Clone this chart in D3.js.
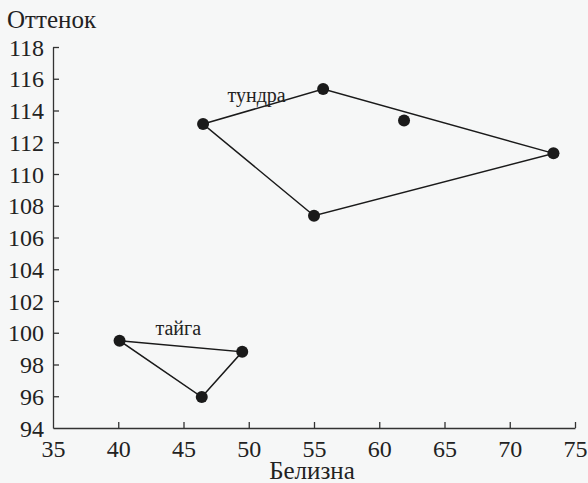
<!DOCTYPE html>
<html>
<head>
  <style>
    body { margin: 0; background: #f6f7f7; }
  </style>
</head>
<body style="margin:0;background:#f6f7f7">
  <svg id="chart" width="588" height="483"></svg>
  <script src="https://d3js.org/d3.v7.min.js"></script>
  <script>
    // data: Белизна (x) and Оттенок (y)
    const tundraWhite = [46.5, 55.7, 73.35, 55.0];   // hull order
    const tundraHue   = [113.15, 115.35, 111.3, 107.37];
    const tundraInnerWhite = [61.9];
    const tundraInnerHue   = [113.37];
    const taigaWhite = [40.1, 49.5, 46.4];
    const taigaHue   = [99.5, 98.8, 95.95];
    const xTicks = [35, 40, 45, 50, 55, 60, 65, 70, 75];
    const yTicks = [94, 96, 98, 100, 102, 104, 106, 108, 110, 112, 114, 116, 118];

    const width = 588, height = 483;
    const margin = { top: 47, right: 13, bottom: 55, left: 53 };
    const w = width - margin.left - margin.right;
    const h = height - margin.top - margin.bottom;
    const serif = "Liberation Serif, serif";

    const svg = d3.select("#chart");
    const chart = svg.append("g")
      .attr("transform", `translate(${margin.left}, ${margin.top})`);

    const x = d3.scaleLinear().domain([35, 75]).range([0, w]);
    const y = d3.scaleLinear().domain([94, 118]).range([h, 0]);

    function styleAxis(g) {
      g.attr("font-family", serif).attr("font-size", 24);
      g.selectAll("path, line").attr("stroke", "#333").attr("stroke-width", 1.3);
      g.selectAll("text")
        .attr("font-family", serif)
        .attr("font-size", 24)
        .attr("fill", "#222");
    }

    // axes, ticks pointing inward
    chart.append("g")
      .attr("transform", `translate(0, ${h})`)
      .call(d3.axisBottom(x).tickValues(xTicks).tickSizeInner(-6).tickSizeOuter(0).tickPadding(12))
      .call(styleAxis)
      .call(g => g.selectAll(".tick").filter(d => d === 35).select("line").remove());

    chart.append("g")
      .call(d3.axisLeft(y).tickValues(yTicks).tickSizeInner(-6).tickSizeOuter(0).tickPadding(9))
      .call(styleAxis)
      .call(g => g.selectAll(".tick").filter(d => d === 94).select("line").remove())
      .call(g => g.selectAll(".tick text").attr("dy", "0.34em"));

    const line = d3.line().x(d => x(d[0])).y(d => y(d[1])).curve(d3.curveLinearClosed);

    const tundra = tundraWhite.map((v, i) => [v, tundraHue[i]]);
    const taiga = taigaWhite.map((v, i) => [v, taigaHue[i]]);
    const inner = tundraInnerWhite.map((v, i) => [v, tundraInnerHue[i]]);

    [tundra, taiga].forEach(pts => {
      chart.append("path")
        .attr("d", line(pts))
        .attr("fill", "none")
        .attr("stroke", "#1a1a1a")
        .attr("stroke-width", 1.5);
    });

    chart.selectAll(".pt")
      .data(tundra.concat(inner, taiga))
      .enter().append("circle")
      .attr("cx", d => x(d[0]))
      .attr("cy", d => y(d[1]))
      .attr("r", 6)
      .attr("fill", "#1a1a1a");

    // group labels
    chart.append("text")
      .attr("x", x(50.6))
      .attr("y", y(114.53))
      .attr("text-anchor", "middle")
      .attr("font-family", serif)
      .attr("font-size", 20)
      .attr("fill", "#222")
      .text("тундра");

    chart.append("text")
      .attr("x", x(44.6))
      .attr("y", y(99.88))
      .attr("text-anchor", "middle")
      .attr("font-family", serif)
      .attr("font-size", 20)
      .attr("fill", "#222")
      .text("тайга");

    // axis titles
    svg.append("text")
      .attr("x", 7)
      .attr("y", 28)
      .attr("font-family", serif)
      .attr("font-size", 25)
      .attr("fill", "#222")
      .text("Оттенок");

    svg.append("text")
      .attr("x", 312)
      .attr("y", 479)
      .attr("text-anchor", "middle")
      .attr("font-family", serif)
      .attr("font-size", 25)
      .attr("fill", "#222")
      .text("Белизна");
  </script>
</body>
</html>
